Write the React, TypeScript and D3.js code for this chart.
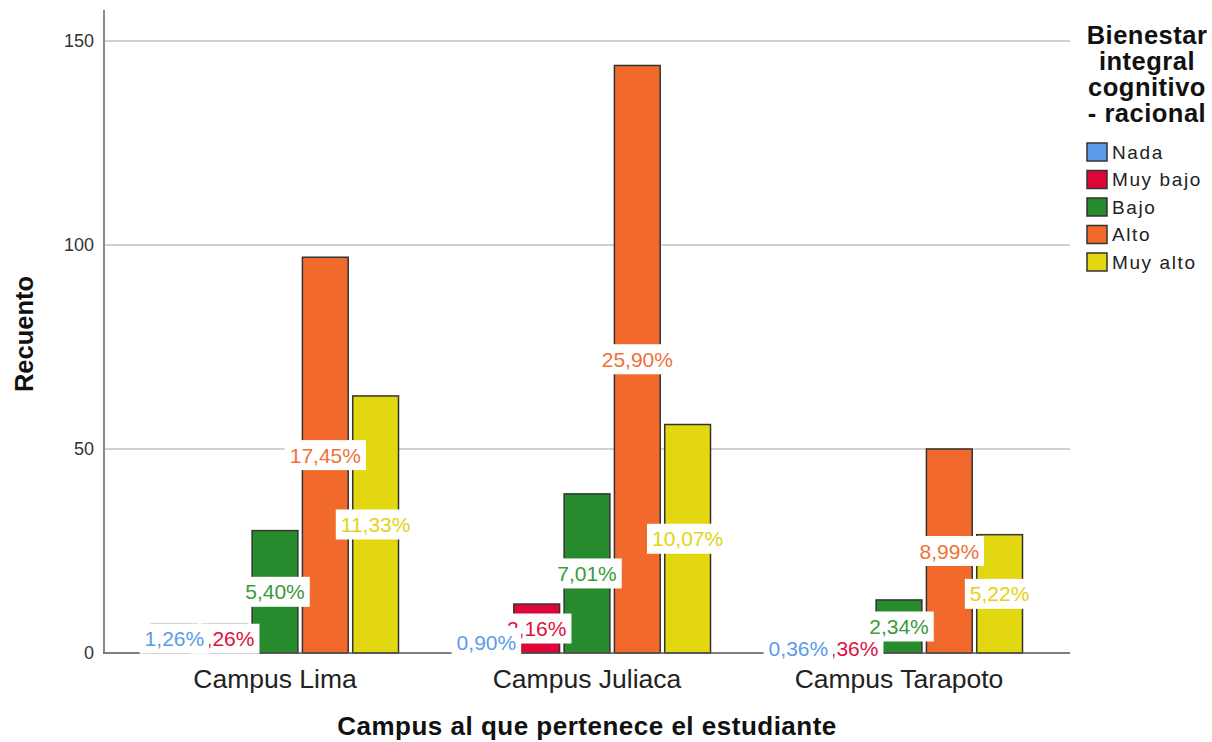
import * as d3 from 'd3';
import React, { useEffect, useRef } from 'react';

const campuses = ['Campus Lima', 'Campus Juliaca', 'Campus Tarapoto'];
const levels = ['Nada', 'Muy bajo', 'Bajo', 'Alto', 'Muy alto'];
const lima = [7, 7, 30, 97, 63];
const juliaca = [5, 12, 39, 144, 56];
const tarapoto = [2, 2, 13, 50, 29];
const limaPct = ['1,26%', '1,26%', '5,40%', '17,45%', '11,33%'];
const juliacaPct = ['0,90%', '2,16%', '7,01%', '25,90%', '10,07%'];
const tarapotoPct = ['0,36%', '0,36%', '2,34%', '8,99%', '5,22%'];
const yTicks = [0, 50, 100, 150];

const barColors = ['#5a9be8', '#dc0638', '#278a2c', '#f26a2b', '#e3d710'];
const labelColors = ['#5b9be8', '#e0103e', '#3a9a3a', '#f0703a', '#e2d410'];
const legendTitle = ['Bienestar', 'integral', 'cognitivo', '- racional'];

const FONT = '"Liberation Sans", Arial, sans-serif';

const App = () => {
	const svgRef = useRef(null);

	useEffect(() => {
		const svg = d3.select(svgRef.current);
		svg.selectAll('*').remove();

		const counts = [lima, juliaca, tarapoto];
		const pcts = [limaPct, juliacaPct, tarapotoPct];
		const rows = campuses.flatMap((c, i) =>
			levels.map((l, j) => ({ campus: c, level: l, li: j, value: counts[i][j], pct: pcts[i][j] }))
		);

		const plot = { left: 104, right: 1070, top: 10, bottom: 653 };

		const y = d3.scaleLinear().domain([0, 150]).range([plot.bottom, 41]);
		const x0 = d3.scaleBand().domain(campuses).range([119, 1055]);
		// group centre sits on the middle (Bajo) bar
		const x1 = d3.scaleBand().domain(levels).range([-123.5, 123.5]).paddingInner(0.09);

		// gridlines
		svg.append('g')
			.selectAll('line')
			.data(yTicks.filter((t) => t > 0))
			.join('line')
			.attr('x1', plot.left)
			.attr('x2', plot.right)
			.attr('y1', (d) => y(d))
			.attr('y2', (d) => y(d))
			.attr('stroke', '#d2d2d2')
			.attr('stroke-width', 2);

		// y axis
		svg.append('line')
			.attr('x1', plot.left).attr('x2', plot.left)
			.attr('y1', plot.top).attr('y2', plot.bottom)
			.attr('stroke', '#8a8a8a').attr('stroke-width', 2);

		svg.append('g')
			.selectAll('text')
			.data(yTicks)
			.join('text')
			.attr('x', plot.left - 10)
			.attr('y', (d) => y(d))
			.attr('dy', '0.36em')
			.attr('text-anchor', 'end')
			.style('font-family', FONT)
			.style('font-size', '18px')
			.attr('fill', '#333')
			.text((d) => d);

		// bars
		svg.append('g')
			.selectAll('rect')
			.data(rows)
			.join('rect')
			.attr('x', (d) => x0(d.campus) + x0.bandwidth() / 2 + x1(d.level))
			.attr('y', (d) => y(d.value))
			.attr('width', x1.bandwidth())
			.attr('height', (d) => y(0) - y(d.value))
			.attr('fill', (d) => barColors[d.li])
			.attr('stroke', '#333')
			.attr('stroke-width', 1.5);

		// x axis
		svg.append('line')
			.attr('x1', plot.left - 1).attr('x2', plot.right)
			.attr('y1', plot.bottom).attr('y2', plot.bottom)
			.attr('stroke', '#555').attr('stroke-width', 1.5);

		// value labels, Nada drawn last so it sits on top
		const labels = svg.append('g')
			.selectAll('g')
			.data([...rows].sort((a, b) => b.li - a.li))
			.join('g')
			.attr('transform', (d) => {
				const cx = x0(d.campus) + x0.bandwidth() / 2 + x1(d.level) + x1.bandwidth() / 2;
				const cy = (y(d.value) + y(0)) / 2;
				return `translate(${cx},${cy})`;
			});

		labels.each(function (d) {
			const g = d3.select(this);
			const t = g.append('text')
				.attr('text-anchor', 'middle')
				.attr('dy', '0.36em')
				.style('font-family', FONT)
				.style('font-size', '21px')
				.attr('fill', labelColors[d.li])
				.text(d.pct);
			const w = t.node().getComputedTextLength() + 10;
			g.insert('rect', 'text')
				.attr('x', -w / 2)
				.attr('y', -15)
				.attr('width', w)
				.attr('height', 30)
				.attr('fill', '#fff');
		});

		// category labels
		svg.append('g')
			.selectAll('text')
			.data(campuses)
			.join('text')
			.attr('x', (d) => x0(d) + x0.bandwidth() / 2)
			.attr('y', 688)
			.attr('text-anchor', 'middle')
			.style('font-family', FONT)
			.style('font-size', '26.5px')
			.attr('fill', '#222')
			.text((d) => d);

		// axis titles
		svg.append('text')
			.attr('x', 587)
			.attr('y', 735)
			.attr('text-anchor', 'middle')
			.style('font-family', FONT)
			.style('font-size', '26px')
			.style('font-weight', 'bold')
			.style('letter-spacing', '0.5px')
			.attr('fill', '#111')
			.text('Campus al que pertenece el estudiante');

		svg.append('text')
			.attr('transform', 'translate(33,334) rotate(-90)')
			.attr('text-anchor', 'middle')
			.style('font-family', FONT)
			.style('font-size', '25.5px')
			.style('font-weight', 'bold')
			.attr('fill', '#111')
			.text('Recuento');

		// legend
		const legend = svg.append('g');
		legend.selectAll('text.title')
			.data(legendTitle)
			.join('text')
			.attr('class', 'title')
			.attr('x', 1147)
			.attr('y', (d, i) => 44 + i * 26)
			.attr('text-anchor', 'middle')
			.style('font-family', FONT)
			.style('font-size', '25.5px')
			.style('font-weight', 'bold')
			.style('letter-spacing', '0.5px')
			.attr('fill', '#111')
			.text((d) => d);

		const items = legend.selectAll('g.item')
			.data(levels)
			.join('g')
			.attr('class', 'item')
			.attr('transform', (d, i) => `translate(1087,${152 + i * 27.5})`);

		items.append('rect')
			.attr('x', 0).attr('y', -9)
			.attr('width', 20).attr('height', 18)
			.attr('fill', (d, i) => barColors[i])
			.attr('stroke', '#333')
			.attr('stroke-width', 1.5);

		items.append('text')
			.attr('x', 25)
			.attr('dy', '0.36em')
			.style('font-family', FONT)
			.style('font-size', '19px')
			.style('letter-spacing', '1.6px')
			.attr('fill', '#222')
			.text((d) => d);
	}, []);

	return (
		<svg
			ref={svgRef}
			width={1212}
			height={742}
			style={{ position: 'absolute', left: 0, top: 0, background: '#fff' }}
		/>
	);
};

export default App;
